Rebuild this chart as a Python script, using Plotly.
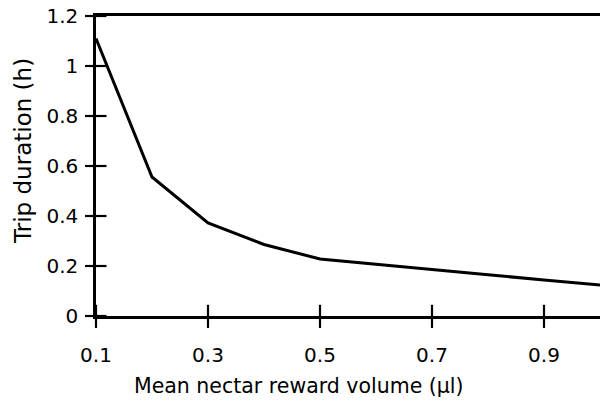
import plotly.graph_objects as go

volume = [0.1, 0.2, 0.3, 0.4, 0.5, 0.6, 0.7, 0.8, 0.9, 1.0]
trip_duration = [1.11, 0.556, 0.372, 0.286, 0.228, 0.208, 0.188, 0.165, 0.144, 0.124]

x_ticks = [0.1, 0.3, 0.5, 0.7, 0.9]
x_ticklabels = ["0.1", "0.3", "0.5", "0.7", "0.9"]
y_ticks = [0, 0.2, 0.4, 0.6, 0.8, 1.0, 1.2]
y_ticklabels = ["0", "0.2", "0.4", "0.6", "0.8", "1", "1.2"]

FONT = "DejaVu Sans"
X_MIN, X_MAX = 0.1, 1.0
Y_MIN, Y_MAX = 0, 1.2

fig = go.Figure()
fig.add_trace(go.Scatter(x=volume, y=trip_duration, mode="lines",
                         line=dict(color="black", width=3), showlegend=False))
# inner halves of the crossing tick marks, placed at the tick values on the axes
fig.add_trace(go.Scatter(x=x_ticks, y=[Y_MIN] * len(x_ticks), mode="markers",
                         marker=dict(symbol="line-ns-open", size=16, color="black",
                                     line=dict(color="black", width=2.2)),
                         cliponaxis=False, hoverinfo="skip", showlegend=False))
fig.add_trace(go.Scatter(x=[X_MIN] * len(y_ticks), y=y_ticks, mode="markers",
                         marker=dict(symbol="line-ew-open", size=15, color="black",
                                     line=dict(color="black", width=2.2)),
                         cliponaxis=False, hoverinfo="skip", showlegend=False))

fig.update_layout(
    width=600, height=402,
    margin=dict(l=96, r=0, t=16, b=86),
    paper_bgcolor="white", plot_bgcolor="white",
    font=dict(family=FONT, size=20, color="black"),
    xaxis=dict(range=[X_MIN, X_MAX], tickvals=x_ticks, ticktext=x_ticklabels,
               ticks="outside", ticklen=9, tickwidth=2.2, tickcolor="black",
               showline=True, linewidth=2.5, linecolor="black", mirror=True,
               ticklabelstandoff=10, showgrid=False, zeroline=False,
               tickfont=dict(family=FONT, size=20)),
    yaxis=dict(range=[Y_MIN, Y_MAX], tickvals=y_ticks, ticktext=y_ticklabels,
               ticks="outside", ticklen=8, tickwidth=2.2, tickcolor="black",
               showline=True, linewidth=2.5, linecolor="black",
               ticklabelstandoff=3, showgrid=False, zeroline=False,
               tickfont=dict(family=FONT, size=20)),
    annotations=[
        dict(text="Mean nectar reward volume (µl)", xref="paper", yref="paper",
             x=0.402, y=-0.233, xanchor="center", yanchor="middle", showarrow=False,
             font=dict(family=FONT, size=20.5)),
        dict(text="Trip duration (h)", xref="paper", yref="paper",
             x=-0.145, y=0.55, xanchor="center", yanchor="middle", textangle=-90,
             showarrow=False, font=dict(family=FONT, size=23)),
    ],
)

fig.write_html("out.html", config={"displayModeBar": False},
               post_script="document.body.style.margin='0px';")
